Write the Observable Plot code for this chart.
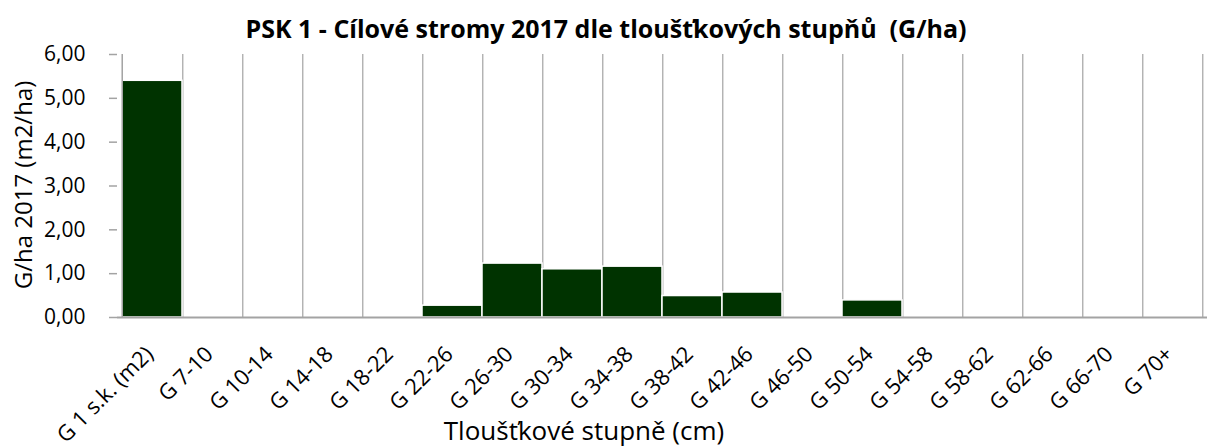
<!DOCTYPE html>
<html>
<head>
<meta charset="utf-8">
<script src="https://cdn.jsdelivr.net/npm/d3@7"></script>
<script src="https://cdn.jsdelivr.net/npm/@observablehq/plot@0.6"></script>
<style>
  html, body { margin: 0; padding: 0; background: #fff; }
  #wrap { position: relative; width: 1208px; height: 448px; overflow: hidden; font-family: "Open Sans", sans-serif; }
  #wrap svg { position: absolute; left: 0; top: 0; }
  .t { position: absolute; white-space: nowrap; color: #000; line-height: 1; }
  #title { left: 0; width: 1212px; text-align: center; top: 16px; font-weight: bold; font-size: 25px; }
  #ylab { left: 23px; top: 185px; font-size: 24px; transform: translate(-50%, -50%) rotate(-90deg); }
  #xlab { left: 584px; top: 417px; font-size: 26px; transform: translate(-50%, 0); }
</style>
</head>
<body>
<div id="wrap">
  <div class="t" id="title">PSK 1 - Cílové stromy 2017 dle tloušťkových stupňů&nbsp; (G/ha)</div>
  <div class="t" id="ylab">G/ha 2017 (m2/ha)</div>
  <div class="t" id="xlab">Tloušťkové stupně (cm)</div>
</div>
<script>
const categories = ["G 1 s.k. (m2)", "G 7-10", "G 10-14", "G 14-18", "G 18-22", "G 22-26", "G 26-30", "G 30-34", "G 34-38", "G 38-42", "G 42-46", "G 46-50", "G 50-54", "G 54-58", "G 58-62", "G 62-66", "G 66-70", "G 70+"];
const values = [5.40, 0, 0, 0, 0, 0.27, 1.23, 1.10, 1.16, 0.49, 0.57, 0, 0.39, 0, 0, 0, 0, 0];
const yTicks = [0, 1, 2, 3, 4, 5, 6];

const data = categories.map((c, i) => ({cat: c, val: values[i]}));
const W = 1208, H = 448, ML = 117, MR = 1, MT = 54, MB = 131;
const bw = (W - ML - MR) / categories.length;
const fmt = d => d.toFixed(2).replace(".", ",");

const chart = Plot.plot({
  width: W, height: H,
  marginLeft: ML, marginRight: MR, marginTop: MT, marginBottom: MB,
  style: {fontFamily: "Open Sans, sans-serif", background: "transparent", overflow: "visible"},
  x: {type: "band", domain: categories, padding: 0, axis: null},
  y: {domain: [0, 6]},
  marks: [
    Plot.ruleX(categories, {x: d => d, dx: bw / 2, y1: 0, y2: 6, stroke: "#a3a3a3", strokeWidth: 1.2}),
    Plot.barY(data.filter(d => d.val > 0), {x: "cat", y: "val", fill: "#003300", stroke: "#ffffff", strokeWidth: 1.5}),
    Plot.axisY({ticks: yTicks, tickFormat: fmt, tickSize: 8, tickPadding: 24, fontSize: 21, stroke: "#a3a3a3", strokeWidth: 1.5, label: null}),
    Plot.ruleX([categories[0]], {x: d => d, dx: -bw / 2, y1: 0, y2: 6, stroke: "#a3a3a3", strokeWidth: 1.5}),
    Plot.ruleY([0], {stroke: "#a3a3a3", strokeWidth: 1.8}),
    Plot.text(categories, {x: d => d, y: 0, text: d => d, rotate: -45, textAnchor: "end", lineAnchor: "middle", dx: -3, dy: 33, fontSize: 22, fill: "#000"})
  ]
});
document.getElementById("wrap").prepend(chart);
</script>
</body>
</html>
